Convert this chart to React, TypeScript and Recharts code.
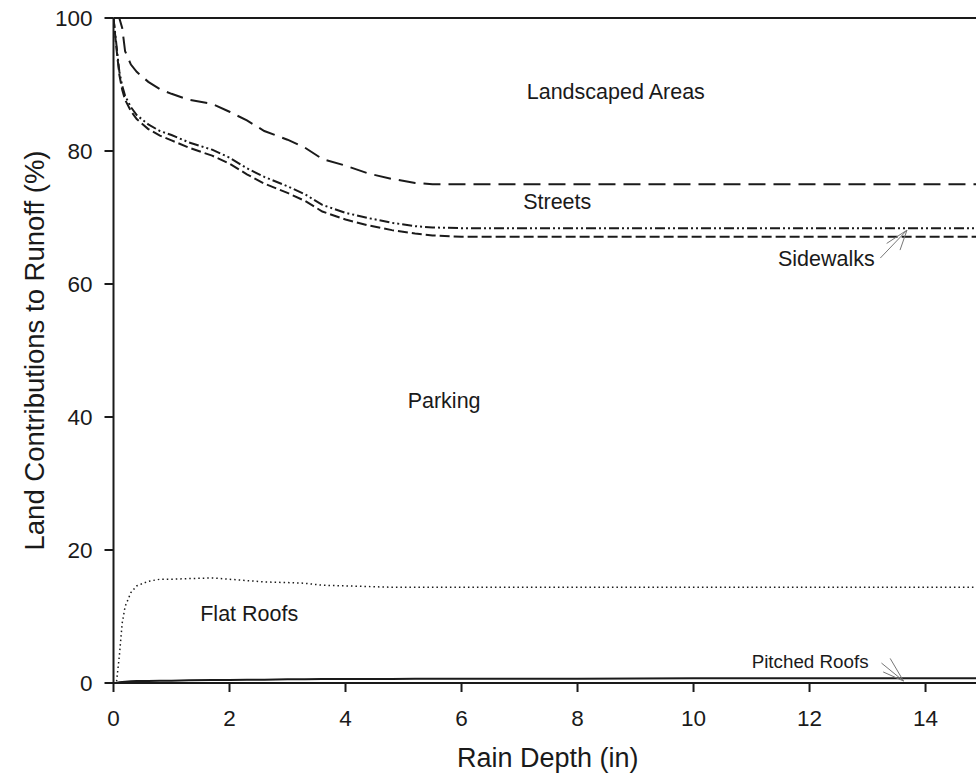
import {
  LineChart,
  Line,
  XAxis,
  YAxis,
  ReferenceLine,
  ReferenceDot,
} from "recharts";

// rain depth (in) sample points
const rainDepth = [
  0, 0.05, 0.1, 0.15, 0.2, 0.3, 0.4, 0.6, 0.8, 1.0, 1.3, 1.7, 2.0, 2.3, 2.6,
  3.0, 3.3, 3.6, 4.0, 4.4, 4.8, 5.2, 5.5, 6, 8, 10, 12, 14, 14.87,
];

// cumulative boundaries (%), top edge of each land use band
const streetsTop = [
  100, 100, 100, 98.5, 95, 93, 91.9, 90.4, 89.3, 88.6, 87.7, 87.1, 85.9, 84.6,
  83.0, 81.7, 80.5, 78.8, 77.8, 76.6, 75.8, 75.2, 75.0, 75.0, 75.0, 75.0, 75.0,
  75.0, 75.0,
];
const sidewalksTop = [
  100, 96, 92, 89.8, 88.3, 86.6, 85.4, 84.0, 83.0, 82.4, 81.3, 80.2, 79.0, 77.4,
  76.1, 74.7, 73.5, 71.9, 70.7, 69.9, 69.2, 68.7, 68.5, 68.4, 68.4, 68.4, 68.4,
  68.4, 68.4,
];
const parkingTop = [
  100, 95.5, 91.5, 89.2, 87.7, 86.0, 84.8, 83.3, 82.3, 81.6, 80.5, 79.3, 78.1,
  76.5, 75.1, 73.7, 72.5, 70.9, 69.7, 68.8, 68.1, 67.6, 67.3, 67.1, 67.1, 67.1,
  67.1, 67.1, 67.1,
];
const flatRoofsTop = [
  0, 0, 4, 9, 11.5, 13.6, 14.6, 15.3, 15.6, 15.6, 15.7, 15.8, 15.6, 15.4, 15.2,
  15.1, 15.0, 14.7, 14.6, 14.5, 14.4, 14.4, 14.4, 14.4, 14.4, 14.4, 14.4, 14.4,
  14.4,
];
const pitchedRoofsTop = [
  0, 0, 0.1, 0.15, 0.2, 0.25, 0.3, 0.3, 0.35, 0.35, 0.4, 0.45, 0.45, 0.5, 0.5,
  0.55, 0.55, 0.6, 0.6, 0.6, 0.6, 0.65, 0.65, 0.65, 0.65, 0.7, 0.7, 0.7, 0.7,
];

const xTicks = [0, 2, 4, 6, 8, 10, 12, 14];
const yTicks = [0, 20, 40, 60, 80, 100];

// area labels: [text, x, y]
const areaLabels: [string, number, number][] = [
  ["Landscaped Areas", 8.66, 88.9],
  ["Streets", 7.65, 72.5],
  ["Sidewalks", 12.29, 63.9],
  ["Parking", 5.7, 42.5],
  ["Flat Roofs", 2.34, 10.5],
];
const pitchedLabel: [string, number, number] = ["Pitched Roofs", 12.01, 3.2];

// pointer lines: [x1, y1, x2, y2]
const pointers: [number, number, number, number][] = [
  [13.22, 63.9, 13.68, 68.1],
  [13.33, 66.1, 13.68, 68.1],
  [13.56, 65.1, 13.68, 68.1],
  [13.24, 3.0, 13.62, 0.3],
  [13.39, 3.7, 13.62, 0.3],
  [13.27, 1.66, 13.62, 0.3],
];

const rows = rainDepth.map((x, i) => ({
  x,
  streetsTop: streetsTop[i],
  sidewalksTop: sidewalksTop[i],
  parkingTop: parkingTop[i],
  flatRoofsTop: flatRoofsTop[i],
  pitchedRoofsTop: pitchedRoofsTop[i],
}));

const FONT = '"Liberation Sans", Arial, sans-serif';
const INK = "#1a1a1a";

function XTitle({ viewBox }: any) {
  const { x, y, width } = viewBox;
  return (
    <text x={x + width / 2 + 3} y={y + 84} textAnchor="middle" fontSize={27} fill={INK} fontFamily={FONT}>
      Rain Depth (in)
    </text>
  );
}

function YTitle({ viewBox }: any) {
  const { y, height } = viewBox;
  const cx = 44;
  const cy = y + height / 2;
  return (
    <text
      x={cx}
      y={cy}
      transform={`rotate(-90, ${cx}, ${cy})`}
      textAnchor="middle"
      fontSize={27.5}
      fill={INK}
      fontFamily={FONT}
    >
      Land Contributions to Runoff (%)
    </text>
  );
}

export default function App() {
  return (
    <div style={{ position: "absolute", left: 0, top: 0, background: "#fff", fontFamily: FONT }}>
      <LineChart width={976} height={776} data={rows} margin={{ top: 18, right: 0, bottom: 0, left: 0 }}>
        <XAxis
          dataKey="x"
          type="number"
          domain={[0, 14.87]}
          ticks={xTicks}
          allowDataOverflow
          height={93}
          tickSize={9}
          tickMargin={18}
          stroke={INK}
          strokeWidth={2}
          tick={{ fontSize: 22.5, fill: INK, fontFamily: FONT }}
          label={<XTitle />}
        />
        <YAxis
          type="number"
          domain={[0, 100]}
          ticks={yTicks}
          width={113.5}
          tickSize={9}
          tickMargin={12}
          stroke={INK}
          strokeWidth={2}
          tick={{ fontSize: 22.5, fill: INK, fontFamily: FONT }}
          label={<YTitle />}
        />
        <ReferenceLine y={100} stroke={INK} strokeWidth={2} />
        <Line dataKey="streetsTop" stroke={INK} strokeWidth={2} strokeDasharray="17 8" dot={false} isAnimationActive={false} />
        <Line dataKey="sidewalksTop" stroke={INK} strokeWidth={2} strokeDasharray="10 3 2 3 2 3" dot={false} isAnimationActive={false} />
        <Line dataKey="parkingTop" stroke={INK} strokeWidth={2} strokeDasharray="10 4" dot={false} isAnimationActive={false} />
        <Line dataKey="flatRoofsTop" stroke={INK} strokeWidth={1.5} strokeDasharray="1.5 3" dot={false} isAnimationActive={false} />
        <Line dataKey="pitchedRoofsTop" stroke={INK} strokeWidth={2} dot={false} isAnimationActive={false} />
        {pointers.map(([x1, y1, x2, y2], i) => (
          <ReferenceLine
            key={`p${i}`}
            segment={[{ x: x1, y: y1 }, { x: x2, y: y2 }]}
            stroke="#777"
            strokeWidth={1}
          />
        ))}
        {areaLabels.map(([text, x, y]) => (
          <ReferenceDot
            key={text}
            x={x}
            y={y}
            r={0}
            fill="none"
            stroke="none"
            label={{ value: text, position: "center", fontSize: 21.5, fill: INK, fontFamily: FONT }}
          />
        ))}
        <ReferenceDot
          x={pitchedLabel[1]}
          y={pitchedLabel[2]}
          r={0}
          fill="none"
          stroke="none"
          label={{ value: pitchedLabel[0], position: "center", fontSize: 18.8, fill: INK, fontFamily: FONT }}
        />
      </LineChart>
    </div>
  );
}
